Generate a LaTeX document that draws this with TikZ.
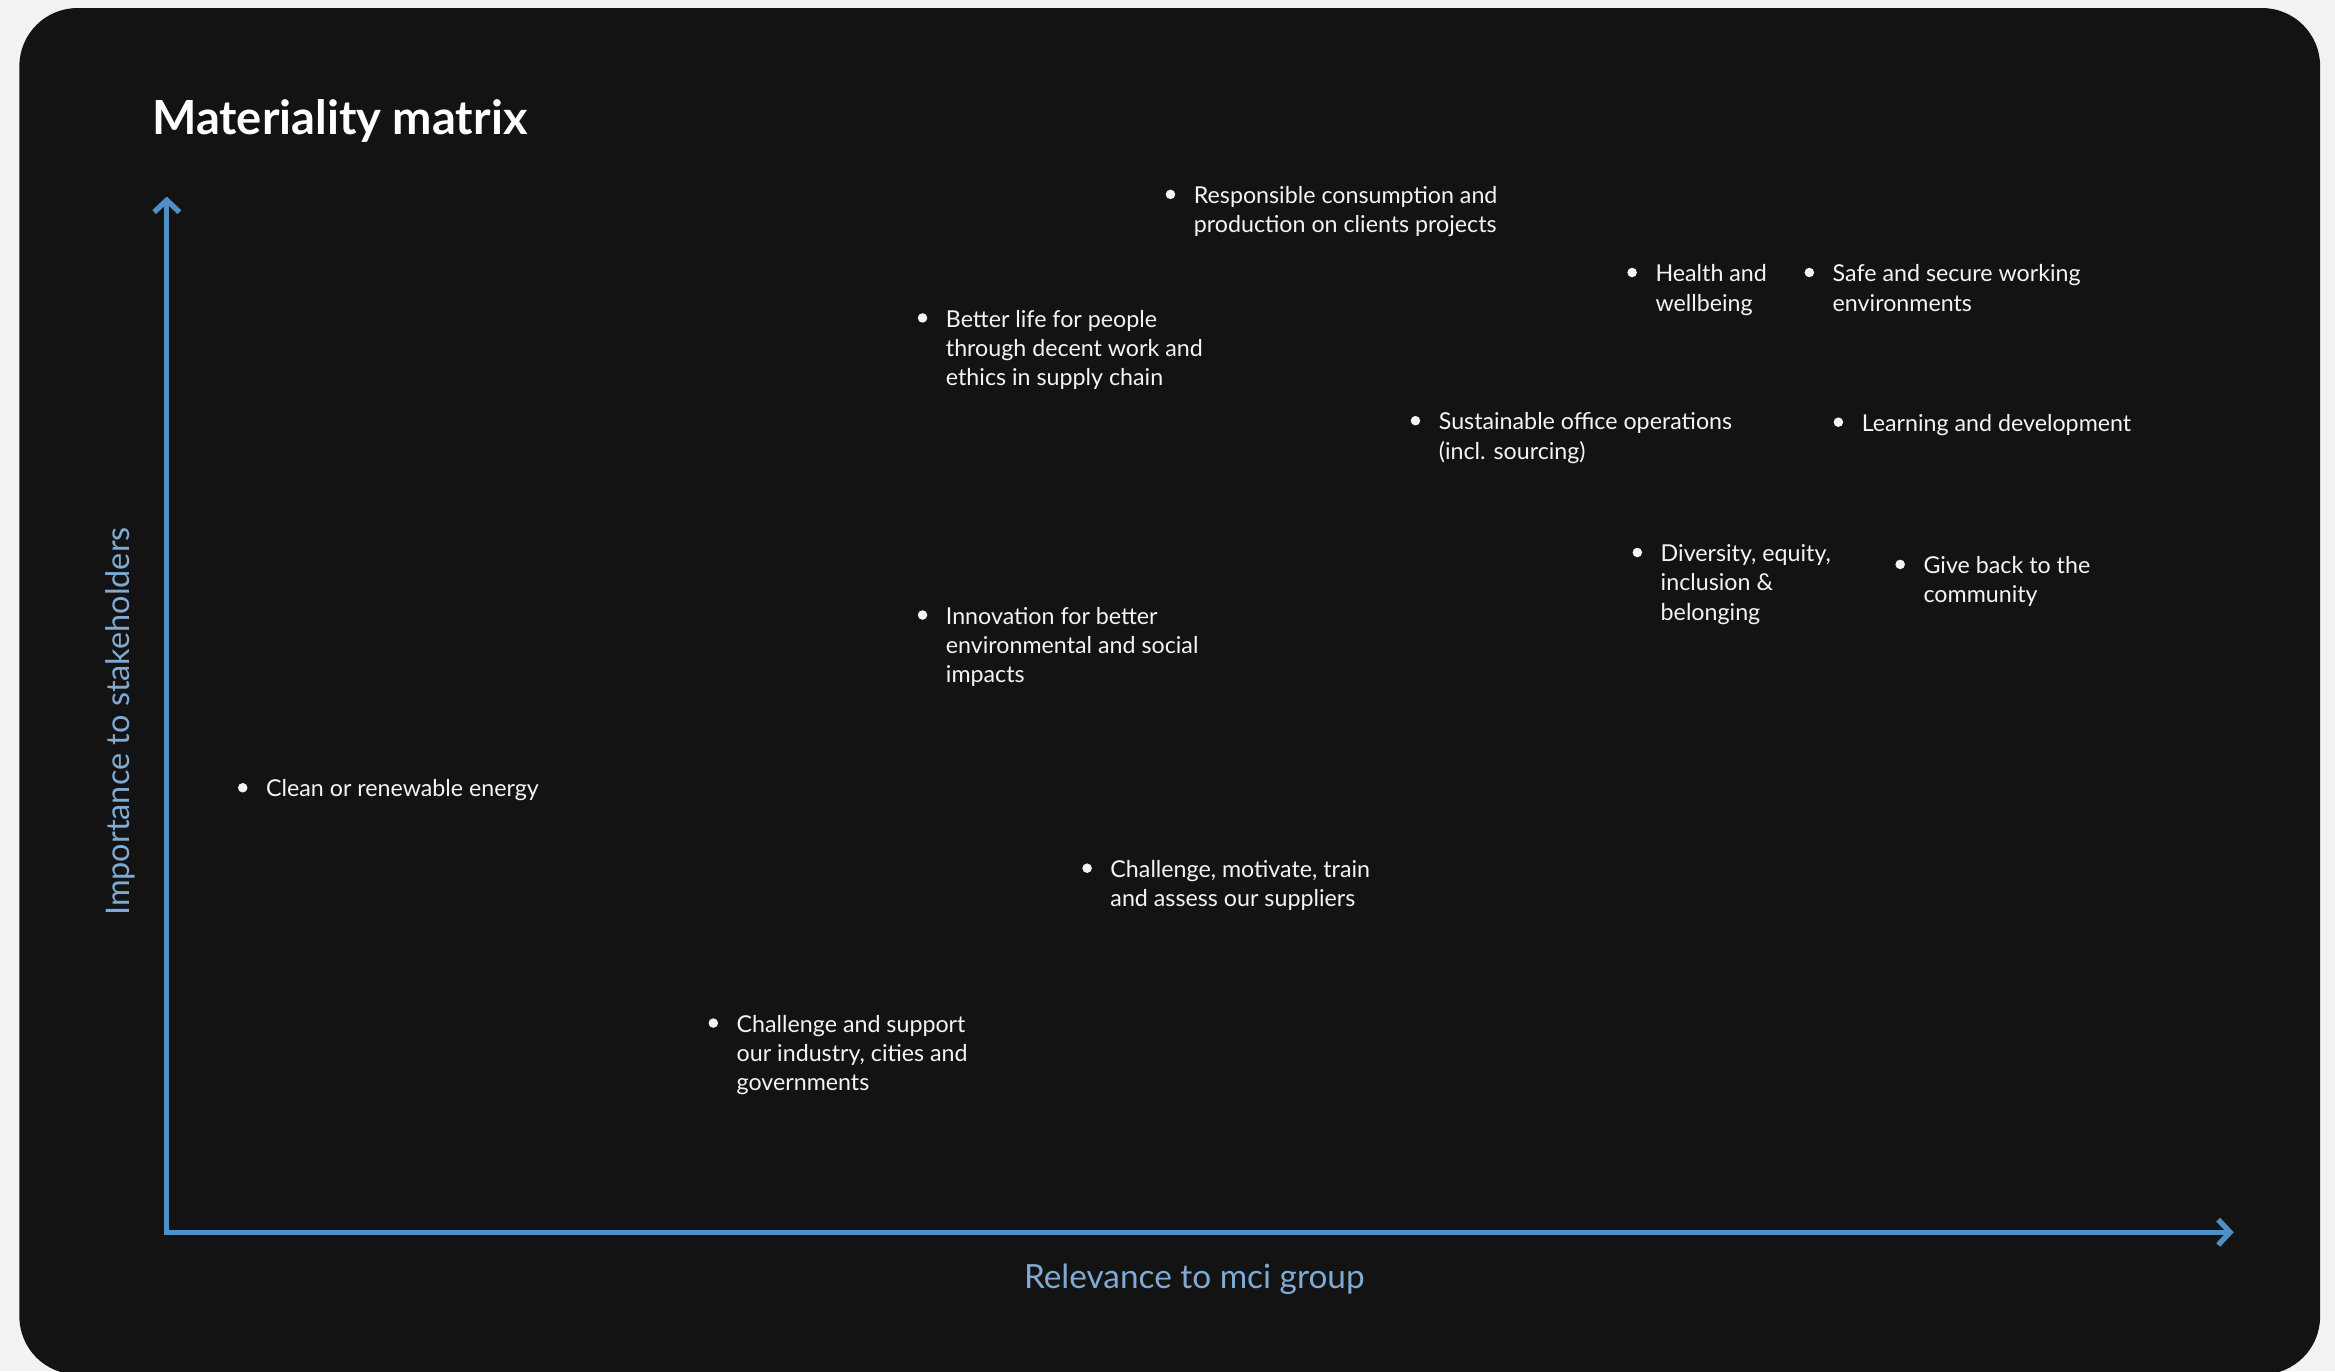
\documentclass[tikz,border=0pt]{standalone}
\usepackage{fontspec}
\setmainfont{Lato}
\usetikzlibrary{arrows.meta}

\definecolor{pagebg}{HTML}{F2F2F2}
\definecolor{panelbg}{HTML}{131313}
\definecolor{axisblue}{HTML}{4F8FC8}
\definecolor{labelblue}{HTML}{7FAAD3}
\definecolor{topictext}{HTML}{F4F4F4}

\begin{document}
\begin{tikzpicture}[x=1pt,y=-1pt,
    topic/.style={anchor=north west, inner sep=0pt, align=left, text=topictext,
        font=\fontsize{15.6}{19.7}\selectfont},
    dot/.style={circle, fill=topictext, inner sep=0pt, minimum size=6.4pt},
    axis/.style={axisblue, line width=3.6pt,
        {Straight Barb[length=8pt,width=17pt]}-{Straight Barb[length=8pt,width=17pt]}},
    axislabel/.style={text=labelblue, inner sep=0pt}]
    \useasboundingbox[fill=pagebg] (0,0) rectangle (1568,920.7);
    \fill[panelbg, rounded corners=39pt] (13,5.4) rectangle (1558,923);

    % title
    \node[anchor=base west, inner sep=0pt, text=white, font=\fontsize{31.6}{36}\selectfont\bfseries]
        (title) at (102,90.6) {Materiality matrix};

    % axes
    \coordinate (origin) at (112,827.5);
    \coordinate (ytip) at (112,132);
    \coordinate (xtip) at (1500,827.5);
    \draw[axis] (ytip) -- (origin) -- (xtip);
    \node[axislabel, anchor=base, font=\fontsize{22.4}{26}\selectfont]
        (xlabel) at (802,865) {Relevance to mci group};
    \node[axislabel, anchor=base, rotate=90, font=\fontsize{21.8}{26}\selectfont]
        (ylabel) at (87,484.5) {Importance to stakeholders};

    % topics
    \node[topic] (resp) at (801.5,125) {Responsible consumption and\\production on clients projects};
    \node[topic] (health) at (1111.5,177.5) {Health and\\wellbeing};
    \node[topic] (safe) at (1230.5,177.5) {Safe and secure working\\environments};
    \node[topic] (better) at (635,208) {Better life for people\\through decent work and\\ethics in supply chain};
    \node[topic] (office) at (966,277) {Sustainable office operations\\(incl. sourcing)};
    \node[topic] (learning) at (1250,278) {Learning and development};
    \node[topic] (diversity) at (1115,365.5) {Diversity, equity,\\inclusion \&\\belonging};
    \node[topic] (giveback) at (1291.5,373.5) {Give back to the\\community};
    \node[topic] (innovation) at (635,407.5) {Innovation for better\\environmental and social\\impacts};
    \node[topic] (clean) at (178.5,523.5) {Clean or renewable energy};
    \node[topic] (suppliers) at (745.5,577.5) {Challenge, motivate, train\\and assess our suppliers};
    \node[topic] (industry) at (494.5,681.5) {Challenge and support\\our industry, cities and\\governments};

    % bullets
    \node[dot] (resp-dot) at ([xshift=-15.5pt,yshift=-5.5pt]resp.north west) {};
    \node[dot] (health-dot) at ([xshift=-15.5pt,yshift=-5.5pt]health.north west) {};
    \node[dot] (safe-dot) at ([xshift=-15.5pt,yshift=-5.5pt]safe.north west) {};
    \node[dot] (better-dot) at ([xshift=-15.5pt,yshift=-5.5pt]better.north west) {};
    \node[dot] (office-dot) at ([xshift=-15.5pt,yshift=-5.5pt]office.north west) {};
    \node[dot] (learning-dot) at ([xshift=-15.5pt,yshift=-5.5pt]learning.north west) {};
    \node[dot] (diversity-dot) at ([xshift=-15.5pt,yshift=-5.5pt]diversity.north west) {};
    \node[dot] (giveback-dot) at ([xshift=-15.5pt,yshift=-5.5pt]giveback.north west) {};
    \node[dot] (innovation-dot) at ([xshift=-15.5pt,yshift=-5.5pt]innovation.north west) {};
    \node[dot] (clean-dot) at ([xshift=-15.5pt,yshift=-5.5pt]clean.north west) {};
    \node[dot] (suppliers-dot) at ([xshift=-15.5pt,yshift=-5.5pt]suppliers.north west) {};
    \node[dot] (industry-dot) at ([xshift=-15.5pt,yshift=-5.5pt]industry.north west) {};
\end{tikzpicture}
\end{document}
